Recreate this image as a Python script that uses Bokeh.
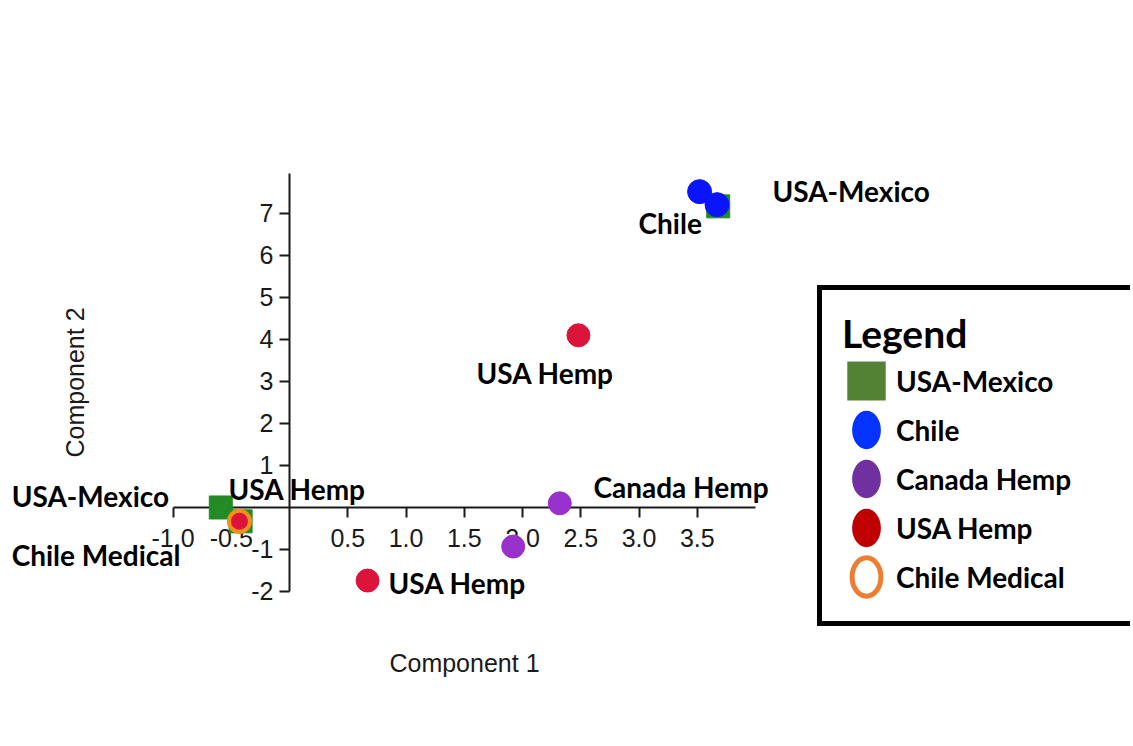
from bokeh.plotting import figure
from bokeh.models import Range1d, FixedTicker, Legend, LegendItem, PrintfTickFormatter
from bokeh.core.properties import value
from bokeh.embed import file_html
from bokeh.resources import INLINE

# ---- data ----
usa_mexico_x = [-0.59, -0.42, 3.68]
usa_mexico_y = [0.00, -0.33, 7.17]
chile_x = [3.52, 3.67]
chile_y = [7.52, 7.21]
canada_hemp_x = [2.32, 1.92]
canada_hemp_y = [0.10, -0.93]
usa_hemp_x = [2.48, 0.67, -0.43]
usa_hemp_y = [4.10, -1.74, -0.33]
chile_medical_x = [-0.43]
chile_medical_y = [-0.33]

label_text = ["USA-Mexico", "Chile", "USA Hemp", "Canada Hemp",
              "USA Hemp", "USA Hemp", "USA-Mexico", "Chile Medical"]
label_x = [4.145, 2.996, 1.605, 2.609, 0.850, -0.524, -2.385, -2.385]
label_y = [7.54, 6.78, 3.2, 0.49, -1.8, 0.43, 0.27, -1.13]

x_ticks = [-1.0, -0.5, 0.5, 1.0, 1.5, 2.0, 2.5, 3.0, 3.5]
y_ticks = [-2, -1, 1, 2, 3, 4, 5, 6, 7]
legend_title = "Legend"
legend_labels = ["USA-Mexico", "Chile", "Canada Hemp", "USA Hemp", "Chile Medical"]

# ---- figure ----
p = figure(width=1130, height=740, output_backend="svg", toolbar_location=None,
           x_range=Range1d(-2.481, 7.219), y_range=Range1d(-5.548, 12.071),
           min_border=0, outline_line_color=None,
           background_fill_color="white", border_fill_color="white")
p.grid.visible = False

ink = "#1a1a1a"
for ax in (p.xaxis[0], p.yaxis[0]):
    ax.fixed_location = 0
    ax.axis_line_color = ink
    ax.axis_line_width = 2
    ax.major_tick_line_color = ink
    ax.major_tick_line_width = 2
    ax.major_tick_in = 0
    ax.major_tick_out = 10
    ax.minor_tick_line_color = None
    ax.major_label_text_font = "Liberation Sans"
    ax.major_label_text_font_size = "25px"
    ax.major_label_text_color = ink
    ax.axis_label_text_font = "Liberation Sans"
    ax.axis_label_text_font_size = "25px"
    ax.axis_label_text_font_style = "normal"
    ax.axis_label_text_color = ink

p.xaxis.ticker = FixedTicker(ticks=x_ticks)
p.yaxis.ticker = FixedTicker(ticks=y_ticks)
p.xaxis.formatter = PrintfTickFormatter(format="%.1f")
p.yaxis.formatter = PrintfTickFormatter(format="%d")
p.xaxis.bounds = (-1.0, 4.0)
p.yaxis.bounds = (-2.0, 7.95)
p.xaxis.axis_label = "Component 1"
p.yaxis.axis_label = "Component 2"
p.xaxis.major_label_standoff = 12
p.yaxis.major_label_standoff = 6
p.xaxis.axis_label_standoff = 98
p.yaxis.axis_label_standoff = 159

# ---- data points ----
p.scatter(usa_mexico_x, usa_mexico_y, marker="square", size=23,
          fill_color="#238b23", line_color="#238b23", level="annotation")
p.scatter(chile_x, chile_y, marker="circle", size=24,
          fill_color="#0a14ff", line_color="#0a14ff", level="annotation")
p.scatter(canada_hemp_x, canada_hemp_y, marker="circle", size=23,
          fill_color="#9932cc", line_color="#9932cc", level="annotation")
p.scatter(usa_hemp_x, usa_hemp_y, marker="circle", size=23,
          fill_color="#dc143c", line_color="#dc143c", level="annotation")
p.scatter(chile_medical_x, chile_medical_y, marker="circle", size=21,
          fill_color=None, line_color="#f39019", line_width=4, level="annotation")

# ---- point labels ----
p.text(x=label_x, y=label_y, text=label_text, text_font=value("Lato"),
       text_font_size="28px", text_font_style="bold", text_color="black",
       text_align="left", text_baseline="alphabetic", level="annotation")

# ---- legend keys (no visible position; they only supply the legend glyphs) ----
nan = float("nan")
k1 = p.rect(x=[nan], y=[nan], width=31, height=34, width_units="screen",
            height_units="screen", fill_color="#548235", line_color=None)
k2 = p.ellipse(x=[nan], y=[nan], width=30, height=40, width_units="screen",
               height_units="screen", fill_color="#0433ff", line_color=None)
k3 = p.ellipse(x=[nan], y=[nan], width=30, height=40, width_units="screen",
               height_units="screen", fill_color="#7030a0", line_color=None)
k4 = p.ellipse(x=[nan], y=[nan], width=30, height=40, width_units="screen",
               height_units="screen", fill_color="#c00000", line_color=None)
k5 = p.ellipse(x=[nan], y=[nan], width=30, height=40, width_units="screen",
               height_units="screen", fill_color=None, line_color="#ed7d31",
               line_width=5)
keys = [k1, k2, k3, k4, k5]

legend = Legend(
    items=[LegendItem(label=lbl, renderers=[r]) for lbl, r in zip(legend_labels, keys)],
    location=(817, 114), title=legend_title,
    title_text_font="Lato", title_text_font_size="39px", title_text_font_style="bold",
    title_text_color="black", title_standoff=-9,
    label_text_font="Lato", label_text_font_size="28px", label_text_font_style="bold",
    label_text_color="black",
    glyph_width=48, glyph_height=49, label_standoff=6, label_width=219, label_height=20,
    spacing=0, padding=20, margin=0,
    border_line_color="black", border_line_width=5, border_line_alpha=1.0,
    background_fill_color="white", background_fill_alpha=1.0)
p.add_layout(legend, "center")

open("out.html", "w").write(file_html(p, INLINE, "chart"))
